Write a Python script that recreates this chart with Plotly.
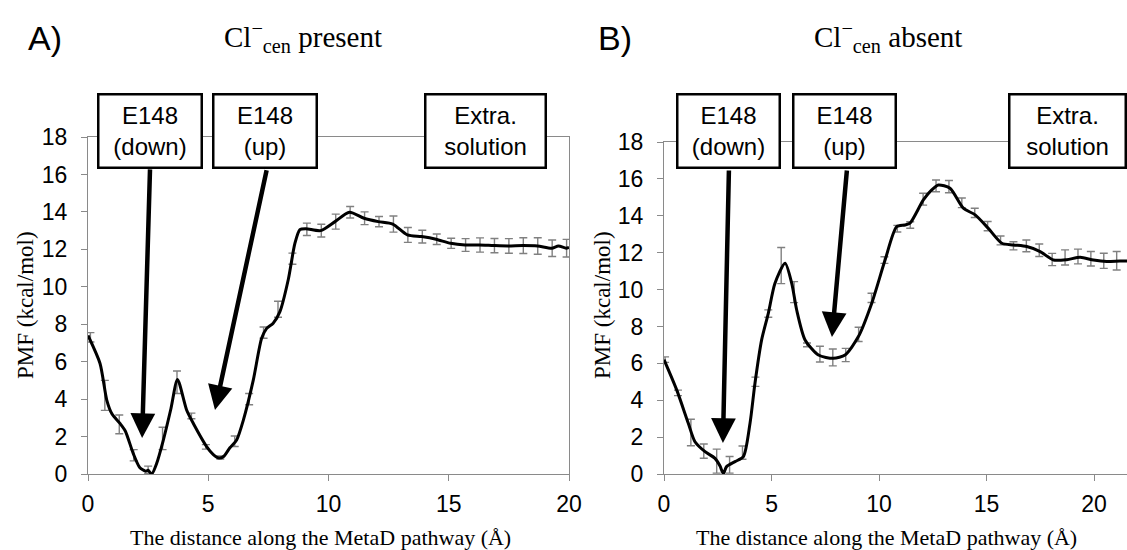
import plotly.graph_objects as go

W, H = 1127, 550

# ---------------- Panel A data (Cl- cen present) ----------------
a_line_x = [0.0, 0.5, 0.78, 1.0, 1.33, 1.55, 1.88, 2.15, 2.4, 2.5, 2.65, 2.85, 3.13, 3.45, 3.72,
            4.1, 4.38, 4.94, 5.2, 5.45, 5.65, 5.9, 6.18, 6.46, 6.87, 7.22, 7.43, 7.7, 7.98, 8.33,
            8.6, 8.81, 9.06, 9.67, 10.27, 10.87, 11.48, 12.07, 12.67, 13.28, 13.87, 14.47, 15.08,
            15.68, 16.27, 16.88, 17.48, 18.08, 18.69, 19.28, 19.56, 19.88, 20.0]
a_line_y = [7.4, 5.9, 3.95, 3.2, 2.7, 2.3, 1.1, 0.35, 0.15, 0.2, 0.0, 0.55, 1.8, 3.5, 5.05,
            3.42, 2.7, 1.45, 1.05, 0.85, 0.95, 1.4, 1.82, 2.88, 5.0, 7.25, 7.78, 8.05, 8.67, 10.4,
            12.3, 13.05, 13.1, 13.0, 13.48, 13.98, 13.66, 13.48, 13.35, 12.77, 12.68, 12.54, 12.32,
            12.23, 12.23, 12.2, 12.18, 12.2, 12.18, 12.06, 12.18, 12.06, 12.1]
a_err_x = [0.1, 0.7, 1.3, 1.9, 2.5, 3.1, 3.7, 4.3, 4.9, 5.5, 6.1, 6.7, 7.3, 7.9, 8.5, 9.1, 9.7,
           10.3, 10.9, 11.5, 12.1, 12.7, 13.3, 13.9, 14.5, 15.1, 15.7, 16.3, 16.9, 17.5, 18.1,
           18.7, 19.3, 19.9]
a_err_y = [7.3, 4.2, 2.65, 1.0, 0.22, 1.9, 4.9, 3.1, 1.45, 0.88, 1.75, 4.0, 7.55, 8.8, 11.5,
           13.07, 13.0, 13.48, 13.98, 13.66, 13.48, 13.35, 12.77, 12.68, 12.54, 12.32, 12.23,
           12.23, 12.2, 12.18, 12.2, 12.18, 12.06, 12.06]
a_err = [0.25, 0.8, 0.5, 0.3, 0.2, 0.6, 0.6, 0.15, 0.12, 0.08, 0.28, 0.3, 0.3, 0.43, 0.3, 0.33,
         0.34, 0.4, 0.31, 0.34, 0.27, 0.43, 0.4, 0.34, 0.28, 0.27, 0.34, 0.38, 0.38, 0.39, 0.42,
         0.44, 0.44, 0.47]

# ---------------- Panel B data (Cl- cen absent) ----------------
b_line_x = [0.0, 0.59, 1.13, 1.44, 1.91, 2.37, 2.6, 2.76, 2.91, 3.3, 3.69, 4.0, 4.23, 4.54, 4.85,
            5.16, 5.63, 5.94, 6.17, 6.56, 7.18, 7.88, 8.42, 9.04, 9.66, 10.28, 10.82, 11.2, 11.44,
            12.06, 12.45, 12.76, 13.3, 13.92, 14.47, 15.08, 15.71, 16.25, 16.87, 17.49, 18.11,
            18.73, 19.35, 19.97, 20.59, 21.2, 21.55]
b_line_y = [6.2, 4.56, 2.75, 1.75, 1.21, 0.85, 0.45, 0.02, 0.4, 0.67, 0.94, 2.75, 4.92, 7.27, 8.71,
            10.34, 11.43, 10.34, 8.89, 7.27, 6.45, 6.27, 6.45, 7.45, 9.26, 11.6, 13.41, 13.5, 13.6,
            14.86, 15.4, 15.67, 15.49, 14.41, 14.05, 13.32, 12.51, 12.42, 12.33, 12.06, 11.6,
            11.62, 11.75, 11.6, 11.52, 11.55, 11.55]
b_err_x = [0.05, 0.65, 1.25, 1.85, 2.45, 3.05, 3.65, 4.25, 4.85, 5.45, 6.05, 6.65, 7.25, 7.85,
           8.45, 9.05, 9.65, 10.25, 10.85, 11.45, 12.05, 12.65, 13.25, 13.85, 14.45, 15.05, 15.65,
           16.25, 16.85, 17.45, 18.05, 18.65, 19.25, 19.85, 20.45, 21.05]
b_err_y = [6.2, 4.4, 2.25, 1.24, 0.7, 0.5, 1.16, 5.0, 8.7, 11.3, 9.86, 7.0, 6.5, 6.32, 6.45, 7.57,
           9.55, 11.6, 13.3, 13.5, 14.9, 15.62, 15.58, 14.7, 14.16, 13.44, 12.66, 12.37, 12.37,
           12.13, 11.63, 11.74, 11.79, 11.67, 11.56, 11.56]
b_err = [0.15, 0.15, 0.72, 0.39, 0.65, 0.45, 0.36, 0.25, 0.2, 0.98, 0.57, 0.1, 0.43, 0.46, 0.36,
         0.39, 0.25, 0.18, 0.18, 0.18, 0.32, 0.32, 0.33, 0.26, 0.25, 0.25, 0.24, 0.22, 0.32, 0.34,
         0.33, 0.41, 0.4, 0.39, 0.41, 0.5]

x_ticks = [0, 5, 10, 15, 20]
y_ticks = [0, 2, 4, 6, 8, 10, 12, 14, 16, 18]

SANS = "Liberation Sans, Arial, sans-serif"
SERIF = "Liberation Serif, Times New Roman, serif"
AXC = "#8a8a8a"
ERRC = "#808080"


def px(p):
    return p / W


def py(p):
    return 1 - p / H


fig = go.Figure()

for xs, ys, ex, ey, ee, xa, ya in [
    (a_line_x, a_line_y, a_err_x, a_err_y, a_err, "x", "y"),
    (b_line_x, b_line_y, b_err_x, b_err_y, b_err, "x2", "y2"),
]:
    fig.add_trace(go.Scatter(
        x=ex, y=ey, mode="markers", xaxis=xa, yaxis=ya,
        marker=dict(size=1, color="rgba(0,0,0,0)"),
        error_y=dict(type="data", array=ee, visible=True, color=ERRC, thickness=1.4, width=4),
        showlegend=False, hoverinfo="skip"))
    fig.add_trace(go.Scatter(
        x=xs, y=ys, mode="lines", xaxis=xa, yaxis=ya,
        line=dict(color="black", width=3, shape="spline", smoothing=0.7),
        showlegend=False))

axis_common = dict(
    showline=True, linecolor=AXC, linewidth=1.2, mirror=True,
    ticks="outside", ticklen=6, tickcolor=AXC, tickwidth=1.2,
    showgrid=False, zeroline=False, automargin=False,
    tickfont=dict(family=SANS, size=23, color="black"),
)

fig.update_layout(
    width=W, height=H,
    margin=dict(l=0, r=0, t=0, b=0, autoexpand=False),
    paper_bgcolor="white", plot_bgcolor="white",
    xaxis=dict(axis_common, domain=[px(88), px(569)], range=[0, 20], tickvals=x_ticks,
               anchor="y", ticklabelstandoff=3),
    yaxis=dict(axis_common, domain=[py(474), py(137)], range=[0, 18], tickvals=y_ticks,
               anchor="x", ticklabelstandoff=9),
    xaxis2=dict(axis_common, domain=[px(664), 1.0], range=[0, 21.53], tickvals=x_ticks,
                anchor="y2", ticklabelstandoff=3),
    yaxis2=dict(axis_common, domain=[py(474), py(142)], range=[0, 18], tickvals=y_ticks,
                anchor="x2", ticklabelstandoff=9),
)

ann = []


def label(text, cx, cy, **kw):
    d = dict(text=text, x=px(cx), y=py(cy), xref="paper", yref="paper", showarrow=False,
             xanchor="center", yanchor="middle")
    d.update(kw)
    ann.append(d)


# Panel letters and titles
label("A)", 45, 38, font=dict(family=SANS, size=34, color="black"))
label("B)", 615, 38, font=dict(family=SANS, size=34, color="black"))
label("Cl<sup>−</sup><sub>cen</sub> present", 303, 37,
      font=dict(family=SERIF, size=29, color="black"))
label("Cl<sup>−</sup><sub>cen</sub> absent", 888, 37,
      font=dict(family=SERIF, size=29, color="black"))

# Axis titles
for cx in (320, 887):
    label("The distance along the MetaD pathway (Å)", cx, 537,
          font=dict(family=SERIF, size=22, color="black"))
for cx in (25, 602):
    label("PMF (kcal/mol)", cx, 305, textangle=-90,
          font=dict(family=SERIF, size=23, color="black"))

# Label boxes
boxes = [
    ("E148<br>(down)", 150, 104),
    ("E148<br>(up)", 265, 104),
    ("Extra.<br>solution", 485.5, 121),
    ("E148<br>(down)", 728.5, 103),
    ("E148<br>(up)", 844.5, 103),
    ("Extra.<br>solution", 1067.5, 117),
]
for text, cx, w in boxes:
    label(text, cx, 131, width=w - 3, height=71, borderpad=0,
          bgcolor="white", bordercolor="black", borderwidth=2.5,
          font=dict(family=SANS, size=24, color="black"))

# Arrows (tip -> tail positions in axis units)
arrows = [
    ("x", "y", 2.25, 1.92, 2.58, 16.35),
    ("x", "y", 5.28, 3.42, 7.44, 16.3),
    ("x2", "y2", 2.74, 1.68, 3.02, 16.54),
    ("x2", "y2", 7.81, 7.43, 8.51, 16.54),
]
for xr, yr, tx, ty, sx, sy in arrows:
    ann.append(dict(text="", x=tx, y=ty, ax=sx, ay=sy, xref=xr, yref=yr, axref=xr, ayref=yr,
                    showarrow=True, arrowhead=2, arrowsize=1.1, arrowwidth=4.5,
                    arrowcolor="black", standoff=0))

fig.update_layout(annotations=ann)

fig.write_html("out.html", config={"displayModeBar": False},
               post_script="document.body.style.margin='0';document.body.style.overflow='hidden';")
